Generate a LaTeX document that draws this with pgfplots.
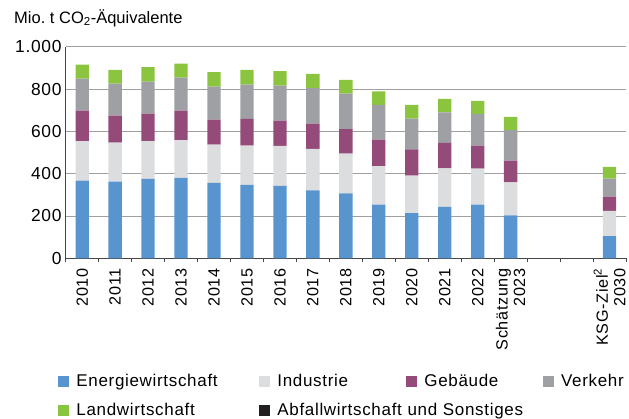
\documentclass[border=0pt]{standalone}
\usepackage{fontspec}
\setmainfont{Liberation Sans}[LetterSpace=4]
\newfontfamily\titlefont{Liberation Sans}
\usepackage{pgfplots}
\pgfplotsset{compat=1.18}
\definecolor{cEn}{RGB}{88,148,206}
\definecolor{cIn}{RGB}{220,221,223}
\definecolor{cGe}{RGB}{149,75,122}
\definecolor{cVe}{RGB}{158,160,163}
\definecolor{cLa}{RGB}{139,197,63}
\definecolor{cAb}{RGB}{35,31,32}
\definecolor{gridgray}{RGB}{160,160,160}
\definecolor{axisgray}{RGB}{70,70,70}
\begin{document}
\begin{tikzpicture}[font=\fontsize{17}{20}\selectfont]
\path[use as bounding box] (-65.7pt,-160.7pt) rectangle (563.3pt,258.3pt);
\node[anchor=base west, inner sep=0pt, font=\titlefont\fontsize{16.5}{19}\selectfont] at (-51.7pt,235pt) {Mio.\ t CO\textsubscript{2}-Äquivalente};
\begin{axis}[
  at={(0pt,0pt)}, anchor=south west,
  scale only axis, width=560.3pt, height=211.6pt,
  ybar stacked, bar width=13.3pt,
  xmin=-0.5, xmax=16.5, ymin=0, ymax=1000,
  axis lines*=left,
  axis line style={draw=axisgray, line width=0.8pt},
  xtick={0,...,16},
  xticklabels={2010,2011,2012,2013,2014,2015,2016,2017,2018,2019,2020,2021,2022,{Schätzung\\2023},{},{},{KSG-Ziel\textsuperscript{2}\\2030}},
  minor xtick={-0.5,0.5,...,16.5},
  tick align=outside,
  major tick length=0pt, minor tick length=3.5pt,
  minor tick style={draw=axisgray, line width=0.8pt},
  ytick={0,200,...,1000},
  ymajorgrids, grid style={draw=gridgray, line width=0.8pt},
  /pgf/number format/1000 sep={.},
  /pgf/number format/assume math mode=true,
  xticklabel style={rotate=90, anchor=east, align=right, inner sep=0pt, xshift=-10pt, font=\fontsize{16.2}{17.5}\selectfont},
  yticklabel style={anchor=east, inner sep=0pt, xshift=-4pt, font=\fontsize{17.4}{20}\selectfont},
  legend columns=4,
  legend style={at={(-0.0132,-0.548)}, anchor=north west, draw=none, fill=none,
    inner sep=0pt, outer sep=0pt, row sep=15.5pt,
    nodes={inner sep=0pt},
    /tikz/every odd column/.append style={column sep=7.1pt}},
  legend image code/.code={\path[#1,draw=none] (0pt,-5.5pt) rectangle (11pt,5.5pt);},
]
\addplot[fill=cEn, draw=none] coordinates {(0,367) (1,362) (2,375) (3,380) (4,357) (5,347) (6,342) (7,321) (8,307) (9,254) (10,214) (11,243) (12,254) (13,203) (16,105)};
\addlegendentry[text width=182.9pt, align=left]{Energiewirtschaft}
\addplot[fill=cIn, draw=none] coordinates {(0,187) (1,185) (2,179) (3,179) (4,180) (5,185) (6,189) (7,196) (8,188) (9,182) (10,177) (11,182) (12,170) (13,156) (16,119)};
\addlegendentry[text width=128.9pt, align=left]{Industrie}
\addplot[fill=cGe, draw=none] coordinates {(0,144) (1,127) (2,130) (3,139) (4,118) (5,127) (6,120) (7,119) (8,116) (9,125) (10,124) (11,120) (12,108) (13,102) (16,67)};
\addlegendentry[text width=118.6pt, align=left]{Gebäude}
\addplot[fill=cVe, draw=none] coordinates {(0,151) (1,151) (2,151) (3,156) (4,156) (5,162) (6,165) (7,168) (8,167) (9,164) (10,145) (11,145) (12,149) (13,145) (16,85)};
\addlegendentry[align=left]{Verkehr}
\addplot[fill=cLa, draw=none] coordinates {(0,66) (1,66) (2,68) (3,66) (4,69) (5,69) (6,69) (7,67) (8,65) (9,64) (10,65) (11,63) (12,63) (13,62) (16,56)};
\addlegendentry[text width=182.9pt, align=left]{Landwirtschaft}
\addlegendimage{fill=cAb, draw=none}
\addlegendentry[text width=128.9pt, align=left]{\makebox[0pt][l]{Abfallwirtschaft und Sonstiges}}
\end{axis}
\end{tikzpicture}
\end{document}
